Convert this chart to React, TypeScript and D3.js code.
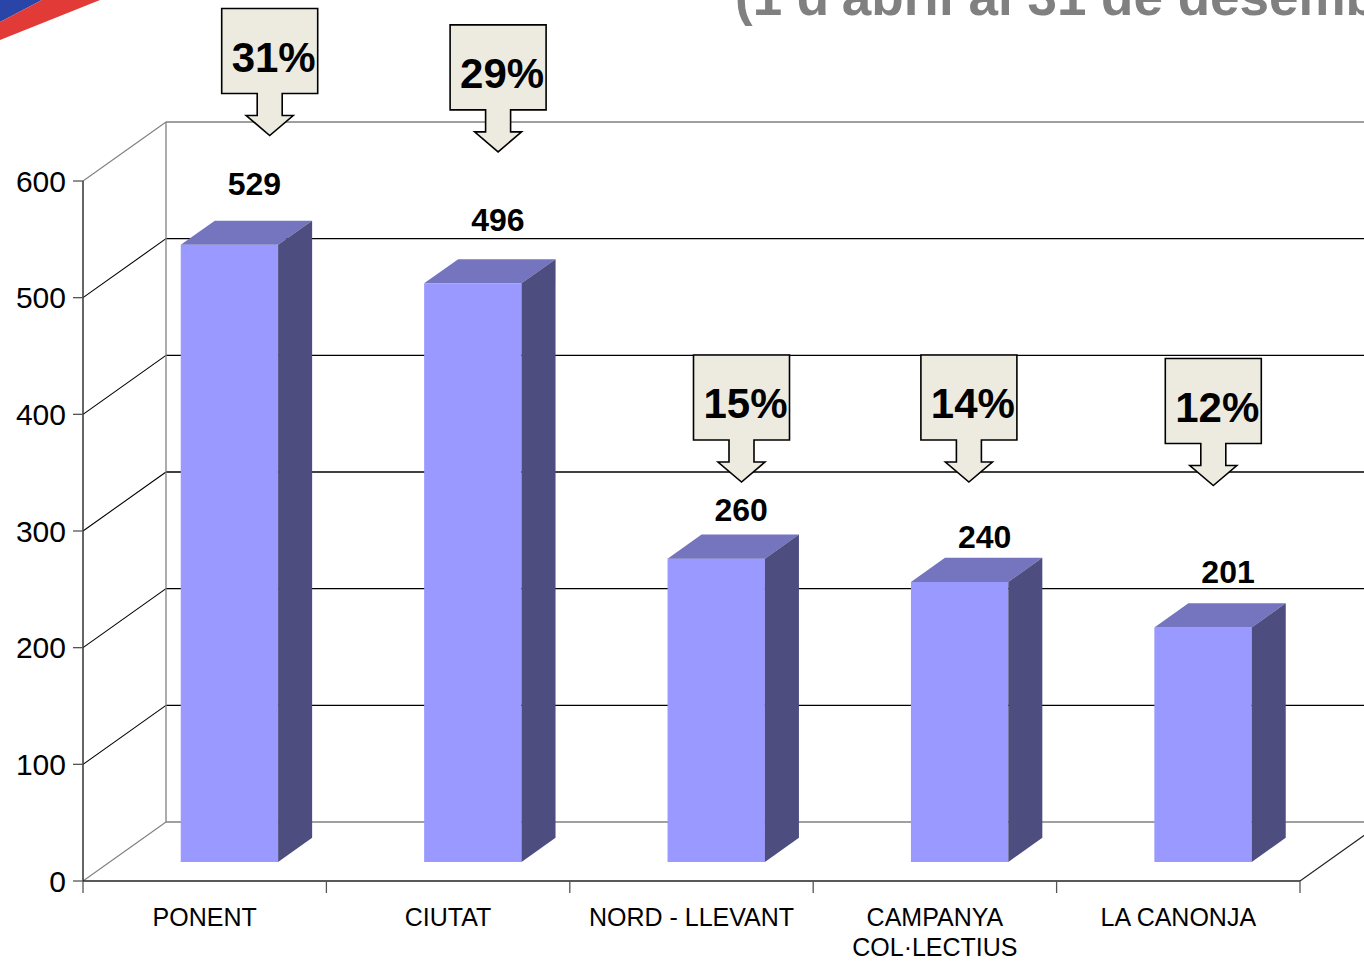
import * as d3 from 'd3';

// data
const categories = ['PONENT', 'CIUTAT', 'NORD - LLEVANT', 'CAMPANYA COL·LECTIUS', 'LA CANONJA'];
const categoryLines = [['PONENT'], ['CIUTAT'], ['NORD - LLEVANT'], ['CAMPANYA', 'COL·LECTIUS'], ['LA CANONJA']];
const values = [529, 496, 260, 240, 201];
const shares = ['31%', '29%', '15%', '14%', '12%'];
const yTicks = [0, 100, 200, 300, 400, 500, 600];
const title = "(1 d'abril al 31 de desembre)";

// hand placement of the labels and callouts (offsets, not data)
const labelGap = [50, 52, 38, 34, 45];
const calloutDx = [65, 50, 50, 34, 35];
const calloutLevel = [639, 625, 342, 342, 339];

const W = 1364;
const H = 961;
const FONT = 'Liberation Sans, Arial, sans-serif';

// 3d depth of the wall / floor
const DX = 83;
const DY = -59;
const BAR_FRONT = 0.322; // depth fraction of the bar front face
const BAR_DEPTH = 0.41;

const C = {
  front: '#9999FF',
  top: '#7474BF',
  side: '#4D4D80',
  wall: '#808080',
  grid: '#000000',
  box: '#EDEBE0',
};

export default function App() {
  const x = d3.scaleBand<string>().domain(categories).range([83, 1300]);
  const y = d3.scaleLinear().domain([0, 600]).range([881, 181]);
  const bw = x.bandwidth() * 0.4;

  const fx = BAR_FRONT * DX - 2;
  const fy = BAR_FRONT * DY;
  const bdx = BAR_DEPTH * DX;
  const bdy = BAR_DEPTH * DY;

  const x0 = x.range()[0];
  const x1 = x.range()[1];

  return (
    <svg width={W} height={H} style={{ position: 'absolute', left: 0, top: 0, background: '#fff' }}>
      {/* logo corner */}
      <polygon points="0,0 42,0 0,22" fill="#2A45A8" />
      <polygon points="42,0 100,0 0,40 0,22" fill="#E23A36" />

      {/* title, cut at the top */}
      <text x={735} y={15} fontFamily={FONT} fontWeight="bold" fontSize={53} fill="#808080">
        {title}
      </text>

      {/* back wall grid and side-wall diagonals */}
      {yTicks.map((t) => {
        const edge = t === 0 || t === 600;
        const col = edge ? C.wall : C.grid;
        return (
          <g key={`g${t}`}>
            <line x1={x0 + DX} x2={x1 + DX} y1={y(t) + DY} y2={y(t) + DY} stroke={col} strokeWidth={1.3} />
            <line x1={x0} x2={x0 + DX} y1={y(t)} y2={y(t) + DY} stroke={col} strokeWidth={1.1} />
          </g>
        );
      })}
      <line x1={x0 + DX} x2={x0 + DX} y1={y(0) + DY} y2={y(600) + DY} stroke={C.wall} strokeWidth={1.3} />
      <line x1={x1} x2={x1 + DX} y1={y(0)} y2={y(0) + DY} stroke="#222" strokeWidth={1.1} />

      {/* bars */}
      {values.map((v, i) => {
        const xl = (x(categories[i]) ?? 0) + (x.bandwidth() - bw) / 2 + fx;
        const xr = xl + bw;
        const yb = y(0) + fy;
        const yt = y(v) + fy;
        return (
          <g key={`b${i}`}>
            <rect x={xl} y={yt} width={bw} height={yb - yt} fill={C.front} />
            <polygon
              points={`${xl},${yt} ${xl + bdx},${yt + bdy} ${xr + bdx},${yt + bdy} ${xr},${yt}`}
              fill={C.top}
            />
            <polygon
              points={`${xr},${yt} ${xr + bdx},${yt + bdy} ${xr + bdx},${yb + bdy} ${xr},${yb}`}
              fill={C.side}
            />
            <text
              x={xl + bw / 2 + 25}
              y={yt - labelGap[i]}
              textAnchor="middle"
              fontFamily={FONT}
              fontWeight="bold"
              fontSize={32}
              fill="#000"
            >
              {v}
            </text>
          </g>
        );
      })}

      {/* front axes */}
      <line x1={x0} x2={x0} y1={y(0)} y2={y(600)} stroke="#333" strokeWidth={1.5} />
      <line x1={x0} x2={x1} y1={y(0)} y2={y(0)} stroke="#222" strokeWidth={1.5} />
      {yTicks.map((t) => (
        <g key={`t${t}`}>
          <line x1={x0 - 10} x2={x0} y1={y(t)} y2={y(t)} stroke="#555" strokeWidth={1.3} />
          <text
            x={66}
            y={y(t)}
            dy="0.36em"
            textAnchor="end"
            fontFamily={FONT}
            fontSize={30}
            fill="#000"
          >
            {t}
          </text>
        </g>
      ))}
      {[...categories.map((c) => x(c) ?? 0), x1].map((px, i) => (
        <line key={`xt${i}`} x1={px} x2={px} y1={y(0)} y2={y(0) + 12} stroke="#555" strokeWidth={1.3} />
      ))}
      {categoryLines.map((lines, i) => (
        <text
          key={`c${i}`}
          x={(x(categories[i]) ?? 0) + x.bandwidth() / 2}
          y={926}
          textAnchor="middle"
          fontFamily={FONT}
          fontSize={25}
          fill="#000"
        >
          {lines.map((l, j) => (
            <tspan key={j} x={(x(categories[i]) ?? 0) + x.bandwidth() / 2} dy={j === 0 ? 0 : 30}>
              {l}
            </tspan>
          ))}
        </text>
      ))}

      {/* percentage callouts */}
      {shares.map((s, i) => {
        const cx = (x(categories[i]) ?? 0) + x.bandwidth() / 2 + calloutDx[i];
        const tip = y(calloutLevel[i]);
        const headTop = tip - 20;
        const boxBottom = headTop - 22;
        const boxTop = boxBottom - 85;
        const path = [
          [cx - 48, boxTop],
          [cx + 48, boxTop],
          [cx + 48, boxBottom],
          [cx + 12.5, boxBottom],
          [cx + 12.5, headTop],
          [cx + 23.5, headTop],
          [cx, tip],
          [cx - 23.5, headTop],
          [cx - 12.5, headTop],
          [cx - 12.5, boxBottom],
          [cx - 48, boxBottom],
        ];
        return (
          <g key={`p${i}`}>
            <polygon
              points={path.map((p) => p.join(',')).join(' ')}
              fill={C.box}
              stroke="#000"
              strokeWidth={1.6}
            />
            <text
              x={cx + 4}
              y={boxTop + 63}
              textAnchor="middle"
              fontFamily={FONT}
              fontWeight="bold"
              fontSize={42}
              fill="#000"
            >
              {s}
            </text>
          </g>
        );
      })}
    </svg>
  );
}
